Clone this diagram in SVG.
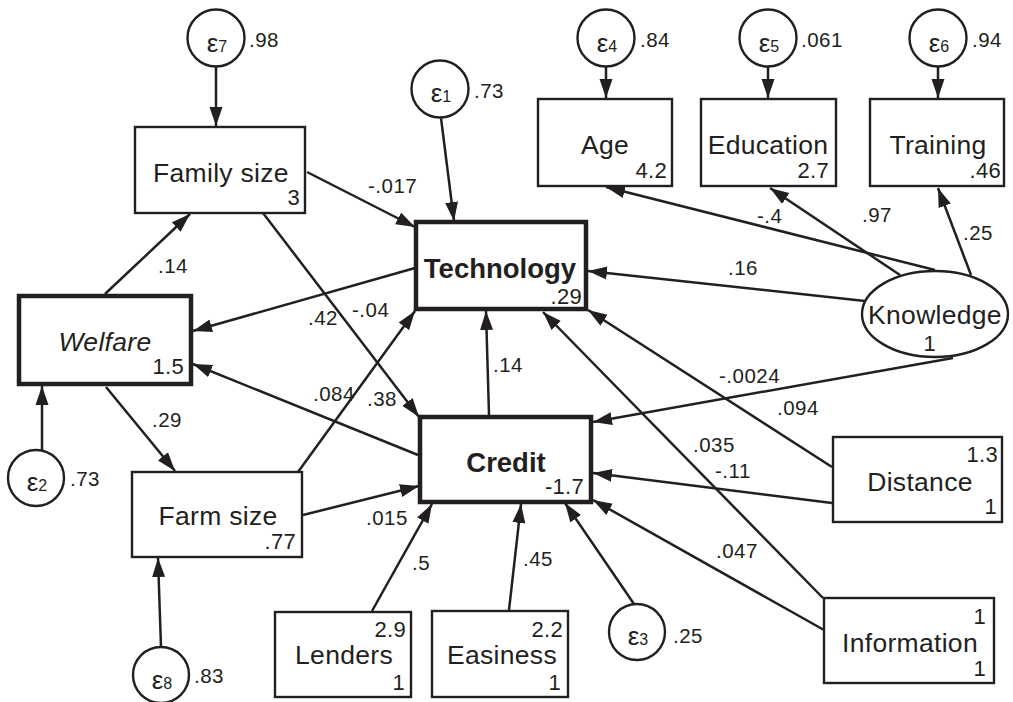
<svg xmlns="http://www.w3.org/2000/svg" width="1013" height="702" viewBox="0 0 1013 702">
<style>
.bx{fill:#fff;stroke:#231f20;stroke-width:2.4}
.bxt{fill:#fff;stroke:#231f20;stroke-width:4.5}
.ci{fill:#fff;stroke:#231f20;stroke-width:2.4}
.ln{stroke:#231f20;stroke-width:2.5;fill:none;marker-end:url(#ah)}
text{font-family:"Liberation Sans",Arial,sans-serif;fill:#231f20}
.nm{font-size:26.5px;letter-spacing:0.3px;text-anchor:middle}
.nb{font-size:27.5px;text-anchor:middle;font-weight:bold}
.nu{font-size:22px;letter-spacing:0.3px;text-anchor:end}
.lb{font-size:20.5px;letter-spacing:0.5px}
.ep{font-size:26px;text-anchor:middle}
.ep tspan{font-size:16px}
</style>
<defs>
<marker id="ah" markerUnits="userSpaceOnUse" markerWidth="20" markerHeight="14" refX="19" refY="6.5" orient="auto" viewBox="0 0 20 13"><path d="M0,0 L19,6.5 L0,13 z" fill="#231f20"/></marker>
</defs>
<g id="connectors">
<line class="ln" x1="216" y1="67" x2="216" y2="126"/>
<line class="ln" x1="441" y1="118" x2="454" y2="221"/>
<line class="ln" x1="606" y1="67" x2="606" y2="98"/>
<line class="ln" x1="768" y1="67" x2="768" y2="98"/>
<line class="ln" x1="938" y1="67" x2="938" y2="98"/>
<line class="ln" x1="307" y1="172" x2="415" y2="227"/>
<line class="ln" x1="263" y1="213" x2="419" y2="417"/>
<line class="ln" x1="105" y1="294" x2="190" y2="214"/>
<line class="ln" x1="415" y1="268" x2="193" y2="331"/>
<line class="ln" x1="418" y1="455" x2="193" y2="364"/>
<line class="ln" x1="106" y1="387" x2="175" y2="471"/>
<line class="ln" x1="298" y1="472" x2="415" y2="311"/>
<line class="ln" x1="303" y1="515" x2="419" y2="486"/>
<line class="ln" x1="489" y1="415" x2="486" y2="311"/>
<line class="ln" x1="935" y1="270" x2="606" y2="187"/>
<line class="ln" x1="900" y1="275" x2="770" y2="188"/>
<line class="ln" x1="971" y1="275" x2="938" y2="188"/>
<line class="ln" x1="865" y1="301" x2="588" y2="271"/>
<line class="ln" x1="953" y1="358" x2="593" y2="422"/>
<line class="ln" x1="832" y1="467" x2="588" y2="310"/>
<line class="ln" x1="832" y1="503" x2="593" y2="473"/>
<line class="ln" x1="823" y1="598" x2="543" y2="312"/>
<line class="ln" x1="824" y1="630" x2="593" y2="500"/>
<line class="ln" x1="372" y1="611" x2="432" y2="504"/>
<line class="ln" x1="509" y1="610" x2="521" y2="504"/>
<line class="ln" x1="634" y1="604" x2="565" y2="503"/>
<line class="ln" x1="42" y1="450" x2="42" y2="386"/>
<line class="ln" x1="161" y1="647" x2="158" y2="558"/>
</g>
<g id="edge-labels">
<text class="lb" x="249" y="47">.98</text>
<text class="lb" x="474" y="98">.73</text>
<text class="lb" x="640" y="47">.84</text>
<text class="lb" x="801" y="47">.061</text>
<text class="lb" x="972" y="47">.94</text>
<text class="lb" x="368" y="193">-.017</text>
<text class="lb" x="158" y="273">.14</text>
<text class="lb" x="308" y="325">.42</text>
<text class="lb" x="352" y="317">-.04</text>
<text class="lb" x="313" y="401">.084</text>
<text class="lb" x="367" y="406">.38</text>
<text class="lb" x="152" y="427">.29</text>
<text class="lb" x="70" y="486">.73</text>
<text class="lb" x="366" y="525">.015</text>
<text class="lb" x="493" y="372">.14</text>
<text class="lb" x="757" y="223">-.4</text>
<text class="lb" x="862" y="222">.97</text>
<text class="lb" x="963" y="240">.25</text>
<text class="lb" x="728" y="275">.16</text>
<text class="lb" x="719" y="383">-.0024</text>
<text class="lb" x="777" y="415">.094</text>
<text class="lb" x="693" y="452">.035</text>
<text class="lb" x="715" y="478">-.11</text>
<text class="lb" x="716" y="558">.047</text>
<text class="lb" x="412" y="570">.5</text>
<text class="lb" x="523" y="566">.45</text>
<text class="lb" x="673" y="643">.25</text>
<text class="lb" x="194" y="683">.83</text>
</g>
<g id="e7"><circle class="ci" cx="216" cy="38" r="28.5"/><text class="ep" x="217" y="52">ε<tspan>7</tspan></text></g>
<g id="e1"><circle class="ci" cx="440" cy="89" r="28.5"/><text class="ep" x="441" y="102">ε<tspan>1</tspan></text></g>
<g id="e4"><circle class="ci" cx="606" cy="38" r="28.5"/><text class="ep" x="607" y="52">ε<tspan>4</tspan></text></g>
<g id="e5"><circle class="ci" cx="768" cy="38" r="28.5"/><text class="ep" x="769" y="52">ε<tspan>5</tspan></text></g>
<g id="e6"><circle class="ci" cx="938" cy="38" r="28.5"/><text class="ep" x="939" y="52">ε<tspan>6</tspan></text></g>
<g id="e2"><circle class="ci" cx="36" cy="478" r="28"/><text class="ep" x="37" y="491">ε<tspan>2</tspan></text></g>
<g id="e8"><circle class="ci" cx="161" cy="675" r="28"/><text class="ep" x="162" y="689">ε<tspan>8</tspan></text></g>
<g id="e3"><circle class="ci" cx="637" cy="632" r="28"/><text class="ep" x="638" y="645">ε<tspan>3</tspan></text></g>
<g id="familysize"><rect class="bx" x="135" y="127" width="170" height="86"/><text class="nm" x="221" y="182">Family size</text><text class="nu" x="300" y="205">3</text></g>
<g id="age"><rect class="bx" x="538" y="99" width="134" height="87"/><text class="nm" x="605" y="154">Age</text><text class="nu" x="667" y="178">4.2</text></g>
<g id="education"><rect class="bx" x="701" y="99" width="135" height="87"/><text class="nm" x="768" y="154">Education</text><text class="nu" x="829" y="178">2.7</text></g>
<g id="training"><rect class="bx" x="870" y="99" width="134" height="87"/><text class="nm" x="938" y="154">Training</text><text class="nu" x="1001" y="178">.46</text></g>
<g id="technology"><rect class="bxt" x="416" y="222" width="170" height="87"/><text class="nb" x="500" y="278">Technology</text><text class="nu" x="582" y="304">.29</text></g>
<g id="welfare"><rect class="bxt" x="19" y="296" width="172" height="88"/><text class="nm" x="105" y="351" font-style="italic">Welfare</text><text class="nu" x="184" y="374">1.5</text></g>
<g id="knowledge"><ellipse class="ci" cx="935" cy="314" rx="73" ry="43"/><text class="nm" x="935" y="324">Knowledge</text><text class="nu" x="936" y="351" font-size="21" text-anchor="middle">1</text></g>
<g id="credit"><rect class="bxt" x="420" y="417" width="171" height="85"/><text class="nb" x="506" y="472">Credit</text><text class="nu" x="584" y="494">-1.7</text></g>
<g id="farmsize"><rect class="bx" x="132" y="472" width="170" height="85"/><text class="nm" x="218" y="525">Farm size</text><text class="nu" x="296" y="549">.77</text></g>
<g id="distance"><rect class="bx" x="833" y="437" width="169" height="85"/><text class="nu" x="998" y="462">1.3</text><text class="nm" x="920" y="491">Distance</text><text class="nu" x="997" y="514">1</text></g>
<g id="information"><rect class="bx" x="824" y="598" width="170" height="85"/><text class="nu" x="986" y="624">1</text><text class="nm" x="910" y="652">Information</text><text class="nu" x="986" y="676">1</text></g>
<g id="lenders"><rect class="bx" x="275" y="612" width="136" height="85"/><text class="nu" x="406" y="637">2.9</text><text class="nm" x="344" y="664">Lenders</text><text class="nu" x="405" y="690">1</text></g>
<g id="easiness"><rect class="bx" x="432" y="611" width="136" height="86"/><text class="nu" x="563" y="637">2.2</text><text class="nm" x="502" y="664">Easiness</text><text class="nu" x="561" y="690">1</text></g>
</svg>
